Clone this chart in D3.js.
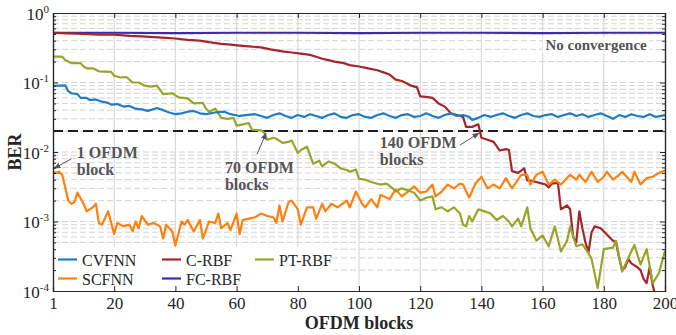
<!DOCTYPE html>
<html>
<head>
<meta charset="utf-8">
<script src="https://cdn.jsdelivr.net/npm/d3@7"></script>
<style>
  body { margin: 0; background: #fff; }
  svg { display: block; }
  text { font-family: "Liberation Serif", "Times New Roman", serif; }
</style>
</head>
<body>
<div id="chart"></div>
<script>
// [block, BER]
const cvfnn = [[0,0.089],[2,0.09],[4,0.091],[5,0.075],[6,0.07],[8,0.068],[9,0.06],[11,0.06],[12,0.056],[14,0.057],[16,0.053],[18,0.051],[19,0.048],[21,0.049],[23,0.045],[25,0.046],[27,0.042],[29,0.041],[31,0.039],[34,0.043],[36,0.04],[38,0.037],[40,0.035],[42,0.036],[44,0.038],[46,0.039],[48,0.036],[50,0.035],[53,0.037],[56,0.038],[58,0.035],[61,0.033],[63,0.034],[66,0.035],[68,0.033],[70,0.031],[72,0.034],[74,0.036],[76,0.033],[78,0.031],[80,0.034],[82,0.032],[84,0.035],[86,0.033],[88,0.031],[90,0.034],[92,0.036],[94,0.032],[96,0.031],[98,0.034],[100,0.035],[102,0.032],[104,0.031],[106,0.034],[108,0.036],[110,0.033],[112,0.031],[114,0.034],[116,0.035],[118,0.032],[120,0.033],[122,0.036],[124,0.033],[126,0.031],[128,0.034],[130,0.036],[132,0.033],[134,0.034],[136,0.032],[137,0.029],[139,0.031],[141,0.034],[143,0.032],[145,0.034],[147,0.036],[149,0.033],[151,0.031],[153,0.034],[155,0.036],[157,0.033],[159,0.032],[161,0.034],[163,0.035],[165,0.032],[167,0.034],[169,0.036],[171,0.033],[173,0.035],[175,0.032],[177,0.034],[179,0.036],[181,0.033],[183,0.030],[185,0.034],[187,0.032],[189,0.035],[191,0.033],[193,0.032],[195,0.035],[197,0.032],[200,0.034]]

const scfnn = [[0,0.0052],[1,0.005],[2,0.0052],[3,0.0047],[5,0.002],[6,0.0018],[7,0.0019],[8,0.0026],[10,0.0018],[11,0.0014],[13,0.0016],[14,0.0018],[15,0.00095],[16,0.0009],[18,0.0014],[20,0.00066],[21,0.00095],[23,0.00085],[25,0.0009],[26,0.00072],[27,0.001],[28,0.0008],[29,0.0012],[31,0.0009],[33,0.00095],[35,0.00085],[36,0.00057],[37,0.0009],[39,0.00072],[40,0.00045],[42,0.001],[43,0.0009],[44,0.00105],[46,0.00072],[48,0.00105],[49,0.00057],[51,0.001],[53,0.00095],[54,0.0013],[55,0.0008],[57,0.00095],[58,0.00075],[60,0.0013],[61,0.00066],[62,0.00105],[64,0.0011],[66,0.00115],[68,0.0013],[70,0.0012],[72,0.00115],[73,0.00095],[74,0.0017],[75,0.001],[77,0.0019],[78,0.002],[80,0.0015],[81,0.0009],[83,0.0016],[85,0.0016],[86,0.0011],[88,0.0018],[89,0.0014],[91,0.0018],[93,0.0016],[96,0.002],[97,0.0016],[99,0.0027],[101,0.0018],[102,0.0016],[104,0.0021],[106,0.0016],[107,0.0024],[110,0.0021],[112,0.0029],[114,0.0023],[116,0.0027],[118,0.0032],[120,0.0026],[122,0.0027],[124,0.0034],[125,0.0023],[127,0.0027],[129,0.0034],[131,0.003],[133,0.0035],[134,0.0034],[136,0.0022],[138,0.0035],[140,0.0044],[142,0.003],[144,0.0034],[146,0.003],[148,0.0042],[150,0.003],[152,0.004],[153,0.0047],[155,0.0047],[156,0.0034],[158,0.0047],[160,0.0052],[162,0.0034],[164,0.004],[166,0.0034],[169,0.0047],[171,0.004],[172,0.0047],[174,0.0037],[176,0.0052],[178,0.0037],[180,0.0044],[181,0.0052],[183,0.004],[185,0.0047],[186,0.0052],[189,0.0037],[190,0.0052],[192,0.0034],[194,0.0042],[196,0.0044],[198,0.005],[200,0.0054]]

const crbf = [[0,0.52],[5,0.51],[10,0.5],[15,0.49],[20,0.49],[25,0.47],[29,0.46],[33,0.45],[37,0.44],[40,0.43],[44,0.41],[48,0.4],[51,0.38],[55,0.36],[58,0.35],[61,0.34],[64,0.33],[68,0.32],[71,0.3],[75,0.28],[78,0.27],[81,0.26],[84,0.25],[86,0.235],[88,0.22],[90,0.21],[92,0.2],[95,0.19],[97,0.178],[100,0.17],[103,0.16],[106,0.15],[108,0.14],[110,0.13],[112,0.11],[114,0.105],[116,0.095],[117,0.09],[119,0.085],[120,0.063],[122,0.062],[124,0.06],[126,0.05],[128,0.045],[130,0.036],[132,0.034],[134,0.032],[135,0.023],[137,0.023],[139,0.025],[140,0.016],[142,0.015],[144,0.014],[146,0.0105],[148,0.011],[149,0.0107],[150,0.0053],[152,0.005],[154,0.0058],[155,0.0039],[157,0.0038],[159,0.0036],[161,0.0034],[162,0.0031],[163,0.0035],[165,0.0036],[166,0.0015],[168,0.0017],[169,0.0015],[170,0.0006],[171,0.0005],[172,0.0014],[173,0.0008],[174,0.0005],[175,0.00036],[176,0.0007],[177,0.00085],[179,0.0008],[181,0.00065],[183,0.00053],[184,0.0005],[185,0.0003],[186,0.0002],[187,0.00022],[188,0.00029],[189,0.00025],[191,0.00022],[192,0.0002],[193,0.00015],[194,0.00013],[195,0.00022],[196,0.00012],[197,0.00008]]

const ptrbf = [[0,0.235],[3,0.235],[4,0.21],[6,0.19],[9,0.19],[10,0.17],[11,0.16],[13,0.16],[15,0.145],[19,0.142],[20,0.125],[22,0.118],[24,0.12],[26,0.1],[28,0.1],[30,0.09],[32,0.087],[34,0.09],[36,0.068],[39,0.07],[41,0.061],[44,0.059],[46,0.05],[49,0.051],[50,0.042],[51,0.038],[53,0.042],[55,0.031],[57,0.03],[59,0.031],[60,0.024],[62,0.025],[64,0.026],[65,0.021],[68,0.0205],[69,0.019],[70,0.015],[72,0.016],[73,0.0155],[75,0.0135],[77,0.014],[78,0.0147],[80,0.0097],[81,0.0107],[83,0.0119],[84,0.009],[85,0.0068],[87,0.0075],[88,0.0062],[90,0.0073],[92,0.0068],[94,0.0058],[96,0.0055],[97,0.0052],[99,0.0056],[100,0.0041],[102,0.004],[104,0.0037],[106,0.0035],[107,0.0034],[109,0.0035],[111,0.003],[112,0.0027],[114,0.003],[116,0.0028],[118,0.0026],[120,0.002],[122,0.0022],[124,0.0023],[125,0.0015],[127,0.0016],[129,0.0014],[131,0.0016],[133,0.0013],[134,0.0009],[135,0.00085],[136,0.0012],[137,0.001],[139,0.0015],[141,0.0014],[143,0.0013],[145,0.00105],[147,0.0012],[149,0.001],[150,0.00085],[152,0.0011],[153,0.00085],[155,0.0016],[156,0.0008],[158,0.00053],[160,0.00063],[162,0.00044],[164,0.00085],[166,0.00037],[168,0.00053],[169,0.00085],[171,0.00044],[173,0.00047],[175,0.00035],[176,0.00029],[178,0.00011],[180,0.0004],[183,0.00042],[184,0.00053],[186,0.00019],[188,0.0003],[190,0.00046],[192,0.00024],[194,0.0004],[196,0.00013],[198,0.00018],[200,0.00038]]

const fcrbf = [[0,0.52],[20,0.52],[40,0.515],[60,0.52],[80,0.52],[100,0.515],[120,0.52],[140,0.52],[160,0.515],[180,0.52],[200,0.52]]

const threshold = 0.02
const xTicks = [0,20,40,60,80,100,120,140,160,180,200]
const xTickLabels = ["1","20","40","60","80","100","120","140","160","180","200"]
const yTicks = [1e-4,1e-3,1e-2,1e-1,1]
const yTickExp = ["-4","-3","-2","-1","0"]

const series = [
  {name: "CVFNN", data: cvfnn, color: "#1f7dc1"},
  {name: "C-RBF", data: crbf, color: "#a3262c"},
  {name: "PT-RBF", data: ptrbf, color: "#98a52a"},
  {name: "SCFNN", data: scfnn, color: "#ff800e"},
  {name: "FC-RBF", data: fcrbf, color: "#3c2bad"}
]
// draw order, last one on top
const drawOrder = ["FC-RBF","C-RBF","SCFNN","PT-RBF","CVFNN"]

const notes = [
  {lines: ["1 OFDM","block"], at: [7.8, 0.0082], from: [6.0, 0.0080], to: [0.4, 0.0058]},
  {lines: ["70 OFDM","blocks"], at: [56.2, 0.0050], from: [66.7, 0.0093], to: [69.6, 0.0187]},
  {lines: ["140 OFDM","blocks"], at: [106.8, 0.0114], from: [133.0, 0.0126], to: [139.2, 0.0187]}
]

const W = 676, H = 335
const margin = {top: 13, right: 11, bottom: 44, left: 53}

const x = d3.scaleLinear().domain([0, 200]).range([margin.left, W - margin.right])
const y = d3.scaleLog().domain([1e-4, 1]).range([H - margin.bottom, margin.top])

const svg = d3.select("#chart").append("svg")
  .attr("width", W).attr("height", H)

svg.append("defs").append("clipPath").attr("id", "plot")
  .append("rect")
  .attr("x", margin.left).attr("y", margin.top)
  .attr("width", x(200) - x(0)).attr("height", y(1e-4) - y(1))

svg.append("defs").append("marker")
  .attr("id", "arrow").attr("viewBox", "0 0 10 10")
  .attr("refX", 9).attr("refY", 5)
  .attr("markerWidth", 7).attr("markerHeight", 7)
  .attr("markerUnits", "userSpaceOnUse")
  .attr("orient", "auto")
  .append("path").attr("d", "M0,1 L10,5 L0,9 Z").attr("fill", "#555")

// horizontal dashed grid at every decade subdivision
const minorVals = []
for (let e = -4; e < 0; e++) for (let k = 1; k <= 9; k++) minorVals.push(k * Math.pow(10, e))
const gridVals = minorVals.filter(v => v > 1.0001e-4)

svg.append("g").selectAll("line").data(gridVals).enter().append("line")
  .attr("x1", x(0)).attr("x2", x(200))
  .attr("y1", d => y(d)).attr("y2", d => y(d))
  .attr("stroke", "#d4d4d4").attr("stroke-width", 1)
  .attr("stroke-dasharray", "6,3")

svg.append("g").selectAll("line").data(xTicks.slice(1, -1)).enter().append("line")
  .attr("x1", d => x(d)).attr("x2", d => x(d))
  .attr("y1", y(1)).attr("y2", y(1e-4))
  .attr("stroke", "#d9d9d9").attr("stroke-width", 1.2)

// threshold
svg.append("line")
  .attr("x1", x(0)).attr("x2", x(200))
  .attr("y1", y(threshold)).attr("y2", y(threshold))
  .attr("stroke", "#1e1e1e").attr("stroke-width", 2)
  .attr("stroke-dasharray", "10,5")

const line = d3.line().x(d => x(d[0])).y(d => y(d[1]))

const plot = svg.append("g").attr("clip-path", "url(#plot)")
drawOrder.forEach(n => {
  const s = series.find(s => s.name === n)
  plot.append("path").datum(s.data)
    .attr("d", line)
    .attr("fill", "none")
    .attr("stroke", s.color)
    .attr("stroke-width", 2.2)
    .attr("stroke-linejoin", "round")
})

// legend (white box, no border)
const legend = svg.append("g")
legend.append("rect")
  .attr("x", x(0) + 0.5).attr("y", 247)
  .attr("width", 280).attr("height", y(1e-4) - 247 - 0.5)
  .attr("fill", "#fff")
const colX = [58, 162, 255]
const rowY = [259.5, 278.5]
series.forEach((s, i) => {
  const cx = colX[i % 3], cy = rowY[Math.floor(i / 3)]
  legend.append("line")
    .attr("x1", cx).attr("x2", cx + 19).attr("y1", cy).attr("y2", cy)
    .attr("stroke", s.color).attr("stroke-width", 2.2)
  legend.append("text")
    .attr("x", cx + 24).attr("y", cy + 6)
    .attr("font-size", 16).attr("fill", "#262626")
    .text(s.name)
})

// annotations
notes.forEach(n => {
  const t = svg.append("text")
    .attr("x", x(n.at[0])).attr("y", y(n.at[1]))
    .attr("font-size", 16).attr("font-weight", "bold").attr("fill", "#555")
  n.lines.forEach((l, i) => {
    t.append("tspan").attr("x", x(n.at[0])).attr("dy", i === 0 ? 0 : 17).text(l)
  })
  svg.append("line")
    .attr("x1", x(n.from[0])).attr("y1", y(n.from[1]))
    .attr("x2", x(n.to[0])).attr("y2", y(n.to[1]))
    .attr("stroke", "#555").attr("stroke-width", 1)
    .attr("marker-end", "url(#arrow)")
})

const nc = svg.append("g")
const ncText = nc.append("text")
  .attr("x", x(177.5)).attr("y", y(0.29))
  .attr("text-anchor", "middle")
  .attr("font-size", 15).attr("font-weight", "bold").attr("fill", "#555")
  .text("No convergence")
const bb = ncText.node().getBBox()
nc.insert("rect", "text")
  .attr("x", bb.x - 3).attr("y", bb.y)
  .attr("width", bb.width + 6).attr("height", bb.height)
  .attr("fill", "#fff")

// axes
const axisColor = "#262626"
const xAxis = svg.append("g").attr("transform", `translate(0,${y(1e-4)})`)
  .call(d3.axisBottom(x).tickValues(xTicks).tickSize(-5).tickPadding(6)
    .tickFormat((d, i) => xTickLabels[i]))
const xTop = svg.append("g").attr("transform", `translate(0,${y(1)})`)
  .call(d3.axisTop(x).tickValues(xTicks).tickSize(-5).tickFormat(""))
const yLeft = svg.append("g").attr("transform", `translate(${x(0)},0)`)
  .call(d3.axisLeft(y).tickValues(yTicks).tickSize(-5).tickFormat(""))
const yRight = svg.append("g").attr("transform", `translate(${x(200)},0)`)
  .call(d3.axisRight(y).tickValues(yTicks).tickSize(-5).tickFormat(""))
const minorOnly = minorVals.filter(v => !yTicks.includes(v))
const yLeftMinor = svg.append("g").attr("transform", `translate(${x(0)},0)`)
  .call(d3.axisLeft(y).tickValues(minorOnly).tickSize(-3).tickFormat(""))
const yRightMinor = svg.append("g").attr("transform", `translate(${x(200)},0)`)
  .call(d3.axisRight(y).tickValues(minorOnly).tickSize(-3).tickFormat(""))

;[xAxis, xTop, yLeft, yRight, yLeftMinor, yRightMinor].forEach(g => {
  g.selectAll(".domain").attr("stroke", axisColor).attr("stroke-width", 1.2)
  g.selectAll(".tick line").attr("stroke", axisColor).attr("stroke-width", 1)
})
xAxis.selectAll(".tick text")
  .attr("font-family", "Liberation Serif").attr("font-size", 17).attr("fill", axisColor)
  .attr("dy", "0.71em")

// y tick labels 10^n
const yl = svg.append("g")
yTicks.forEach((v, i) => {
  const t = yl.append("text")
    .attr("x", x(0) - 4).attr("y", y(v) + 6.5)
    .attr("text-anchor", "end").attr("font-size", 17).attr("fill", axisColor)
  t.append("tspan").text("10")
  t.append("tspan").attr("font-size", 11).attr("dy", -7).text(yTickExp[i])
})

svg.append("text")
  .attr("transform", `translate(21,${(y(1) + y(1e-4)) / 2}) rotate(-90)`)
  .attr("text-anchor", "middle").attr("font-size", 18).attr("font-weight", "bold")
  .attr("fill", axisColor)
  .text("BER")

svg.append("text")
  .attr("x", (x(0) + x(200)) / 2).attr("y", 329)
  .attr("text-anchor", "middle").attr("font-size", 18).attr("font-weight", "bold")
  .attr("fill", axisColor)
  .text("OFDM blocks")
</script>
</body>
</html>
